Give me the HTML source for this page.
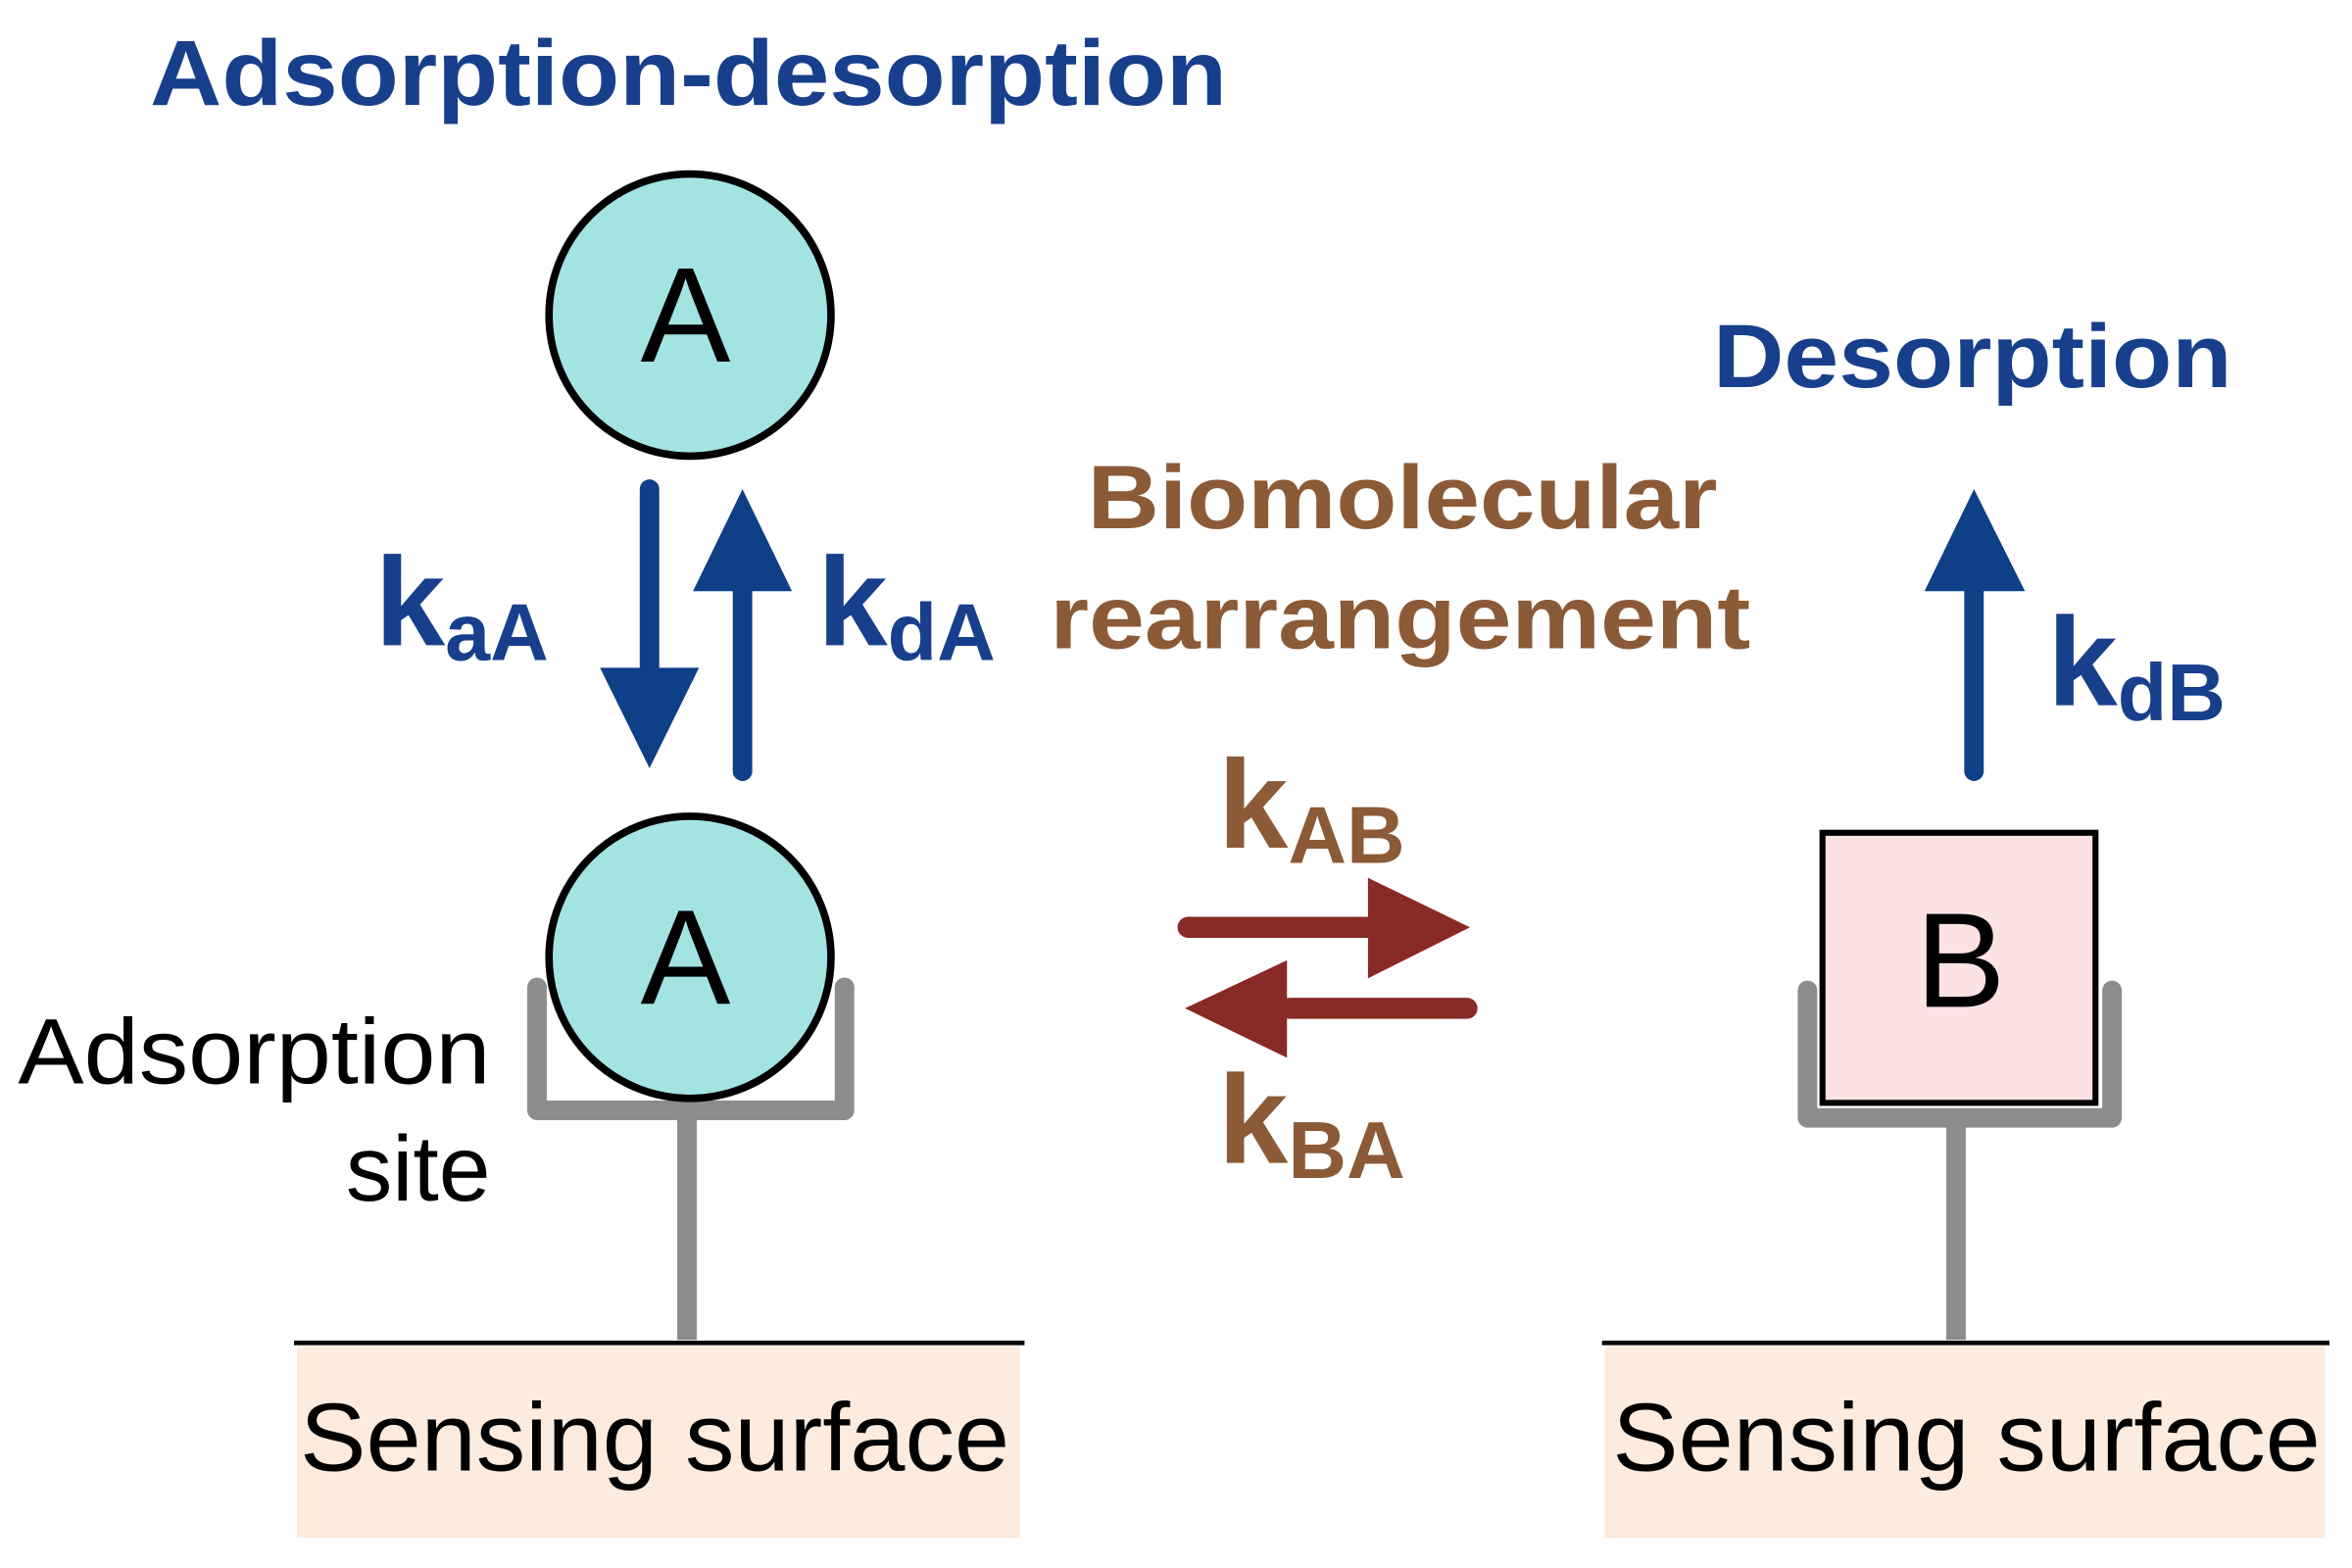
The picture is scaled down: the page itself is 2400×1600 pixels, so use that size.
<!DOCTYPE html>
<html><head><meta charset="utf-8"><style>html,body{margin:0;padding:0;background:#fff}svg{display:block;font-family:"Liberation Sans",sans-serif}</style></head>
<body>
<svg width="2400" height="1600" viewBox="0 0 1568 1045" preserveAspectRatio="none" xmlns="http://www.w3.org/2000/svg" font-family="'Liberation Sans', sans-serif">
<rect width="1568" height="1045" fill="#fff"/>
<text x="100" y="70" font-size="62" font-weight="bold" fill="#173f8c" textLength="718" lengthAdjust="spacingAndGlyphs">Adsorption-desorption</text>
<circle cx="460" cy="210" r="94" fill="#a3e4e3" stroke="#000" stroke-width="5"/>
<text x="457" y="241" font-size="90" text-anchor="middle" fill="#000">A</text>
<line x1="433" y1="326" x2="433" y2="450" stroke="#0f3f87" stroke-width="13" stroke-linecap="round"/>
<polygon points="400,445 466,445 433,512" fill="#0f3f87"/>
<line x1="495" y1="514" x2="495" y2="390" stroke="#0f3f87" stroke-width="13" stroke-linecap="round"/>
<polygon points="462,394 528,394 495,326" fill="#0f3f87"/>
<text x="250" y="430" font-size="84" font-weight="bold" fill="#173f8c">k<tspan font-size="54" dy="10">aA</tspan></text>
<text x="545" y="430" font-size="84" font-weight="bold" fill="#173f8c">k<tspan font-size="54" dy="10">dA</tspan></text>
<text x="725" y="352" font-size="60" font-weight="bold" fill="#8b5a36" textLength="420" lengthAdjust="spacingAndGlyphs">Biomolecular</text>
<text x="700" y="432" font-size="60" font-weight="bold" fill="#8b5a36" textLength="467" lengthAdjust="spacingAndGlyphs">rearrangement</text>
<text x="1142" y="258" font-size="60" font-weight="bold" fill="#173f8c" textLength="346" lengthAdjust="spacingAndGlyphs">Desorption</text>
<line x1="1316" y1="514" x2="1316" y2="390" stroke="#0f3f87" stroke-width="13" stroke-linecap="round"/>
<polygon points="1283,394 1350,394 1316,326" fill="#0f3f87"/>
<text x="1365" y="470" font-size="84" font-weight="bold" fill="#173f8c">k<tspan font-size="54" dy="10">dB</tspan></text>
<text x="812" y="565" font-size="84" font-weight="bold" fill="#8b5a36">k<tspan font-size="54" dy="10">AB</tspan></text>
<line x1="792" y1="618" x2="915" y2="618" stroke="#882a25" stroke-width="14" stroke-linecap="round"/>
<polygon points="912,585 912,652 980,618" fill="#882a25"/>
<line x1="978" y1="672" x2="860" y2="672" stroke="#882a25" stroke-width="14" stroke-linecap="round"/>
<polygon points="858,640 858,705 790,672" fill="#882a25"/>
<text x="812" y="775" font-size="84" font-weight="bold" fill="#8b5a36">k<tspan font-size="54" dy="10">BA</tspan></text>
<polyline points="358,658 358,740 563,740 563,658" fill="none" stroke="#8c8c8c" stroke-width="13" stroke-linecap="round" stroke-linejoin="round"/>
<line x1="458" y1="742" x2="458" y2="893" stroke="#8c8c8c" stroke-width="13"/>
<circle cx="460" cy="638" r="94" fill="#a3e4e3" stroke="#000" stroke-width="5"/>
<text x="457" y="669" font-size="90" text-anchor="middle" fill="#000">A</text>
<text x="12" y="722" font-size="62" fill="#000" textLength="315" lengthAdjust="spacingAndGlyphs">Adsorption</text>
<text x="327" y="800" font-size="62" fill="#000" text-anchor="end">site</text>
<rect x="198" y="897" width="482" height="128" fill="#fdebdd"/>
<line x1="196" y1="895" x2="683" y2="895" stroke="#000" stroke-width="3"/>
<text x="200" y="980" font-size="64" fill="#000" textLength="473" lengthAdjust="spacingAndGlyphs">Sensing surface</text>
<polyline points="1205,660 1205,745 1408,745 1408,660" fill="none" stroke="#8c8c8c" stroke-width="13" stroke-linecap="round" stroke-linejoin="round"/>
<line x1="1304" y1="747" x2="1304" y2="893" stroke="#8c8c8c" stroke-width="13"/>
<rect x="1215" y="555" width="182" height="180" fill="#fde2e4" stroke="#000" stroke-width="4"/>
<text x="1307" y="671" font-size="90" text-anchor="middle" fill="#000">B</text>
<rect x="1070" y="897" width="480" height="128" fill="#fdebdd"/>
<line x1="1068" y1="895" x2="1553" y2="895" stroke="#000" stroke-width="3"/>
<text x="1075" y="980" font-size="64" fill="#000" textLength="472" lengthAdjust="spacingAndGlyphs">Sensing surface</text>
</svg>
</body></html>
